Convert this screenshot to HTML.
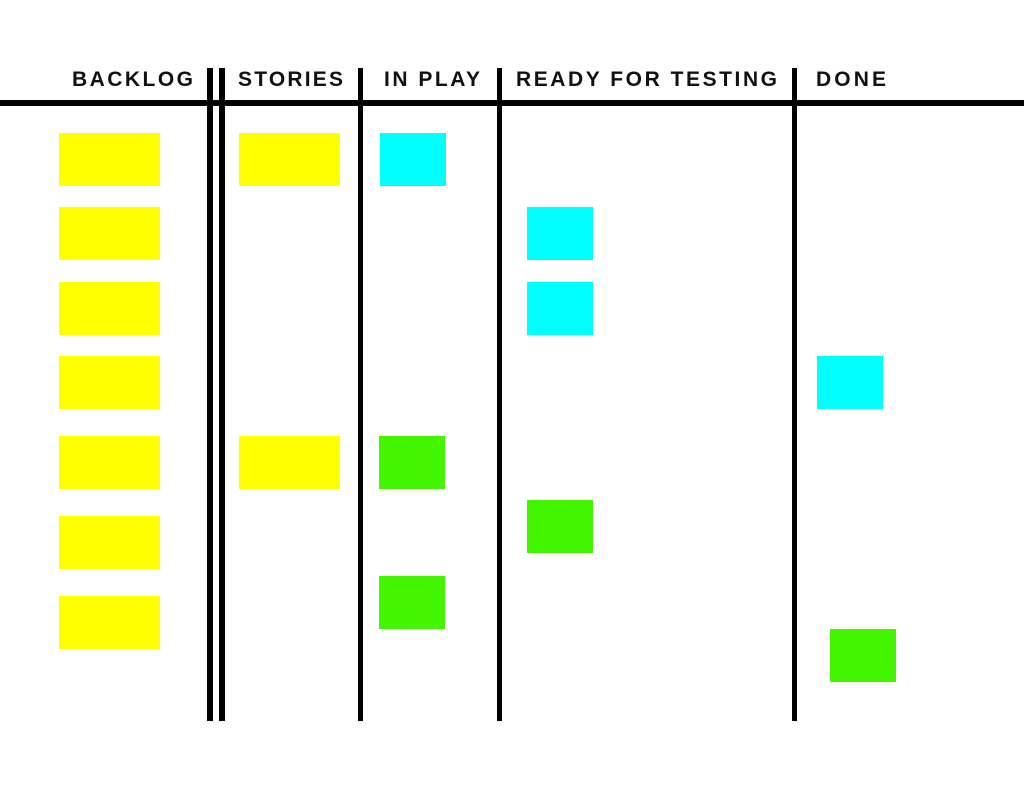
<!DOCTYPE html>
<html><head><meta charset="utf-8"><style>html,body{margin:0;padding:0;background:#fff;}svg{display:block}</style></head>
<body>
<svg width="1024" height="791" viewBox="0 0 1024 791" xmlns="http://www.w3.org/2000/svg">
<rect width="1024" height="791" fill="#fff"/>
<g font-family="Liberation Sans, sans-serif" font-weight="bold" font-size="21" fill="#111">
<text x="72" y="86" textLength="121" lengthAdjust="spacing">BACKLOG</text>
<text x="238" y="86" textLength="105" lengthAdjust="spacing">STORIES</text>
<text x="384" y="86" textLength="96" lengthAdjust="spacing">IN PLAY</text>
<text x="516" y="86" textLength="261" lengthAdjust="spacing">READY FOR TESTING</text>
<text x="816" y="86" textLength="70" lengthAdjust="spacing">DONE</text>
</g>
<rect x="0" y="100" width="1024" height="6" fill="#000"/>
<g fill="#000">
<rect x="207" y="68" width="6" height="653"/>
<rect x="219" y="68" width="6" height="653"/>
<rect x="358" y="68" width="5" height="653"/>
<rect x="497" y="68" width="5" height="653"/>
<rect x="792" y="68" width="5" height="653"/>
</g>
<g fill="#ffff00">
<rect x="59" y="133" width="101" height="53"/>
<rect x="59" y="207" width="101" height="53"/>
<rect x="59" y="282" width="101" height="53"/>
<rect x="59" y="356" width="101" height="53"/>
<rect x="59" y="436" width="101" height="53"/>
<rect x="59" y="516" width="101" height="53"/>
<rect x="59" y="596" width="101" height="53"/>
<rect x="239" y="133" width="101" height="53"/>
<rect x="239" y="436" width="101" height="53"/>
</g>
<g fill="#00ffff">
<rect x="380" y="133" width="66" height="53"/>
<rect x="527" y="207" width="66" height="53"/>
<rect x="527" y="282" width="66" height="53"/>
<rect x="817" y="356" width="66" height="53"/>
</g>
<g fill="#44f500">
<rect x="379" y="436" width="66" height="53"/>
<rect x="527" y="500" width="66" height="53"/>
<rect x="379" y="576" width="66" height="53"/>
<rect x="830" y="629" width="66" height="53"/>
</g>
</svg>
</body></html>
